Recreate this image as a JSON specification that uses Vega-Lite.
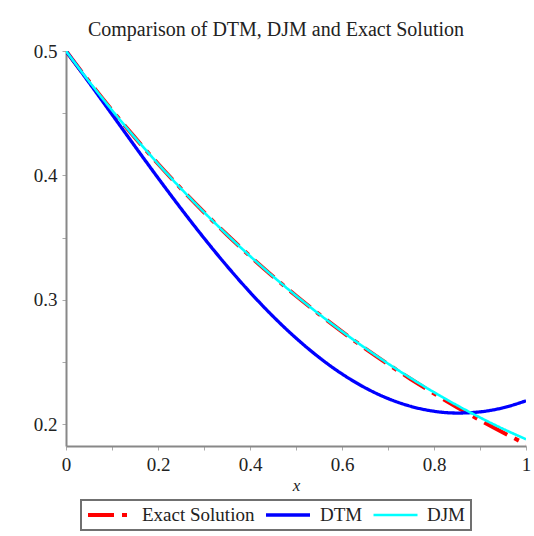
{
  "$schema": "https://vega.github.io/schema/vega-lite/v6.json",
  "width": 460,
  "height": 395,
  "autosize": {"type": "none"},
  "padding": {"left": 66, "top": 51, "right": 8, "bottom": 90},
  "background": "white",
  "title": {
    "text": "Comparison of DTM, DJM and Exact Solution",
    "font": "Liberation Serif",
    "fontSize": 20,
    "fontWeight": "normal",
    "color": "#222222",
    "dx": -20,
    "offset": 2
  },
  "data": {
    "values": [
      {"x": 0, "y": 0.5, "s": "Exact Solution"},
      {"x": 0.05, "y": 0.47562, "s": "Exact Solution"},
      {"x": 0.1, "y": 0.45242, "s": "Exact Solution"},
      {"x": 0.15, "y": 0.43035, "s": "Exact Solution"},
      {"x": 0.2, "y": 0.40937, "s": "Exact Solution"},
      {"x": 0.25, "y": 0.3894, "s": "Exact Solution"},
      {"x": 0.3, "y": 0.37041, "s": "Exact Solution"},
      {"x": 0.35, "y": 0.35234, "s": "Exact Solution"},
      {"x": 0.4, "y": 0.33516, "s": "Exact Solution"},
      {"x": 0.45, "y": 0.31881, "s": "Exact Solution"},
      {"x": 0.5, "y": 0.30327, "s": "Exact Solution"},
      {"x": 0.55, "y": 0.28848, "s": "Exact Solution"},
      {"x": 0.6, "y": 0.27441, "s": "Exact Solution"},
      {"x": 0.65, "y": 0.26102, "s": "Exact Solution"},
      {"x": 0.7, "y": 0.24829, "s": "Exact Solution"},
      {"x": 0.75, "y": 0.23618, "s": "Exact Solution"},
      {"x": 0.8, "y": 0.22466, "s": "Exact Solution"},
      {"x": 0.85, "y": 0.21371, "s": "Exact Solution"},
      {"x": 0.9, "y": 0.20329, "s": "Exact Solution"},
      {"x": 0.95, "y": 0.19337, "s": "Exact Solution"},
      {"x": 1, "y": 0.18394, "s": "Exact Solution"},
      {"x": 0, "y": 0.5, "s": "DTM"},
      {"x": 0.05, "y": 0.47469, "s": "DTM"},
      {"x": 0.1, "y": 0.44901, "s": "DTM"},
      {"x": 0.15, "y": 0.42333, "s": "DTM"},
      {"x": 0.2, "y": 0.398, "s": "DTM"},
      {"x": 0.25, "y": 0.37333, "s": "DTM"},
      {"x": 0.3, "y": 0.34962, "s": "DTM"},
      {"x": 0.35, "y": 0.32713, "s": "DTM"},
      {"x": 0.4, "y": 0.3061, "s": "DTM"},
      {"x": 0.45, "y": 0.28674, "s": "DTM"},
      {"x": 0.5, "y": 0.26925, "s": "DTM"},
      {"x": 0.55, "y": 0.25377, "s": "DTM"},
      {"x": 0.6, "y": 0.24044, "s": "DTM"},
      {"x": 0.65, "y": 0.22938, "s": "DTM"},
      {"x": 0.7, "y": 0.22066, "s": "DTM"},
      {"x": 0.75, "y": 0.21434, "s": "DTM"},
      {"x": 0.8, "y": 0.21044, "s": "DTM"},
      {"x": 0.85, "y": 0.20898, "s": "DTM"},
      {"x": 0.9, "y": 0.20994, "s": "DTM"},
      {"x": 0.95, "y": 0.21323, "s": "DTM"},
      {"x": 1, "y": 0.21881, "s": "DTM"},
      {"x": 0, "y": 0.5, "s": "DJM"},
      {"x": 0.05, "y": 0.47562, "s": "DJM"},
      {"x": 0.1, "y": 0.45242, "s": "DJM"},
      {"x": 0.15, "y": 0.43036, "s": "DJM"},
      {"x": 0.2, "y": 0.40937, "s": "DJM"},
      {"x": 0.25, "y": 0.38941, "s": "DJM"},
      {"x": 0.3, "y": 0.37043, "s": "DJM"},
      {"x": 0.35, "y": 0.35236, "s": "DJM"},
      {"x": 0.4, "y": 0.33519, "s": "DJM"},
      {"x": 0.45, "y": 0.31885, "s": "DJM"},
      {"x": 0.5, "y": 0.30333, "s": "DJM"},
      {"x": 0.55, "y": 0.28859, "s": "DJM"},
      {"x": 0.6, "y": 0.2746, "s": "DJM"},
      {"x": 0.65, "y": 0.26132, "s": "DJM"},
      {"x": 0.7, "y": 0.24876, "s": "DJM"},
      {"x": 0.75, "y": 0.23689, "s": "DJM"},
      {"x": 0.8, "y": 0.22571, "s": "DJM"},
      {"x": 0.85, "y": 0.21522, "s": "DJM"},
      {"x": 0.9, "y": 0.20542, "s": "DJM"},
      {"x": 0.95, "y": 0.19631, "s": "DJM"},
      {"x": 1, "y": 0.18794, "s": "DJM"}
    ]
  },
  "mark": {"type": "line", "interpolate": "monotone", "clip": true},
  "encoding": {
    "x": {
      "field": "x",
      "type": "quantitative",
      "scale": {"domain": [0, 1], "nice": false, "zero": false},
      "axis": {
        "title": "x",
        "titleFont": "Liberation Serif",
        "titleFontStyle": "italic",
        "titleFontWeight": "normal",
        "titleFontSize": 17,
        "titleColor": "#222222",
        "titlePadding": 3,
        "labelFlush": false,
        "values": [0, 0.1, 0.2, 0.3, 0.4, 0.5, 0.6, 0.7, 0.8, 0.9, 1],
        "labelExpr": "round(datum.value*10) % 2 == 0 ? '' + datum.value : ''",
        "grid": false
      }
    },
    "y": {
      "field": "y",
      "type": "quantitative",
      "scale": {"domain": [0.1825, 0.5], "nice": false, "zero": false},
      "axis": {
        "title": null,
        "labelFlush": false,
        "values": [0.2, 0.25, 0.3, 0.35, 0.4, 0.45, 0.5],
        "labelExpr": "round(datum.value*100) % 10 == 0 ? '' + datum.value : ''",
        "grid": false
      }
    },
    "color": {
      "field": "s",
      "type": "nominal",
      "sort": ["Exact Solution", "DTM", "DJM"],
      "scale": {"domain": ["Exact Solution", "DTM", "DJM"], "range": ["#ff0000", "#0000ff", "#00ffff"]},
      "legend": {
        "title": null,
        "orient": "none",
        "legendX": 15,
        "legendY": 449,
        "direction": "horizontal",
        "symbolType": "stroke",
        "symbolSize": 1936,
        "symbolStrokeWidth": 3.2,
        "clipHeight": 20,
        "labelFont": "Liberation Serif",
        "labelFontSize": 19,
        "labelColor": "#222222",
        "labelOffset": 8,
        "columnPadding": 9,
        "padding": 5,
        "strokeColor": "#707070",
        "fillColor": "white"
      }
    },
    "strokeDash": {
      "field": "s",
      "type": "nominal",
      "sort": ["Exact Solution", "DTM", "DJM"],
      "scale": {"domain": ["Exact Solution", "DTM", "DJM"], "range": [[26, 8, 5, 8], [1, 0], [1, 0]]},
      "legend": null
    },
    "strokeWidth": {
      "field": "s",
      "type": "nominal",
      "sort": ["Exact Solution", "DTM", "DJM"],
      "scale": {"domain": ["Exact Solution", "DTM", "DJM"], "range": [4, 2.6, 2.6]},
      "legend": null
    }
  },
  "config": {
    "view": {"stroke": null},
    "axis": {
      "domainColor": "#888888",
      "domainWidth": 2,
      "tickColor": "#aaaaaa",
      "tickSize": 4,
      "tickWidth": 1,
      "labelFont": "Liberation Serif",
      "labelFontSize": 19,
      "labelColor": "#222222",
      "labelPadding": 5
    },
    "legend": {"strokeWidth": 2}
  }
}
